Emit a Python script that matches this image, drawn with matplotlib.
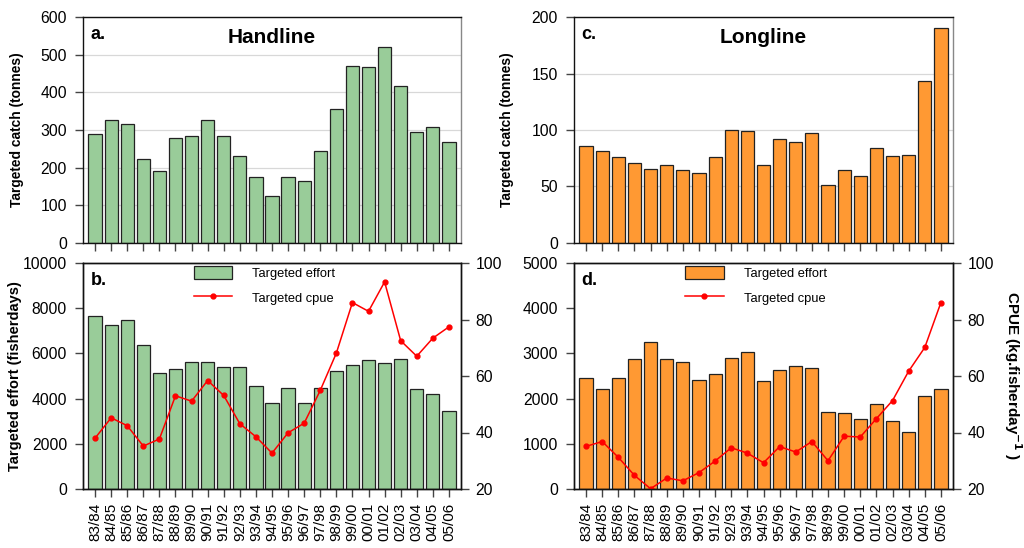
import matplotlib
matplotlib.use("Agg")
import matplotlib.pyplot as plt
import numpy as np

plt.rcParams['font.family'] = ['Liberation Sans', 'DejaVu Sans']

seasons = ["83/84", "84/85", "85/86", "86/87", "87/88", "88/89", "89/90", "90/91",
           "91/92", "92/93", "93/94", "94/95", "95/96", "96/97", "97/98", "98/99",
           "99/00", "00/01", "01/02", "02/03", "03/04", "04/05", "05/06"]

handline_catch = [290, 326, 315, 224, 192, 278, 285, 327, 284, 231, 174, 124,
                  176, 164, 244, 355, 469, 468, 520, 416, 295, 307, 267]
handline_effort = [7670, 7260, 7480, 6380, 5130, 5290, 5600, 5600, 5380, 5390, 4540, 3810,
                   4450, 3810, 4480, 5230, 5490, 5690, 5580, 5770, 4420, 4210, 3450]
handline_cpue = [38.0, 45.2, 42.4, 35.2, 37.7, 53.0, 51.1, 58.4, 53.1, 43.1, 38.5, 32.7,
                 39.9, 43.3, 54.9, 68.1, 86.0, 82.9, 93.3, 72.5, 67.0, 73.4, 77.4]

longline_catch = [85.7, 81.6, 76.3, 71.0, 65.7, 68.6, 64.2, 62.2, 76.3, 100.1, 99.0, 69.2,
                  91.9, 89.8, 97.5, 51.5, 64.8, 59.5, 83.9, 76.9, 77.8, 143.4, 190.6]
longline_effort = [2445, 2217, 2445, 2887, 3247, 2879, 2820, 2415, 2548, 2909, 3041, 2393,
                   2636, 2732, 2666, 1708, 1679, 1554, 1878, 1495, 1267, 2047, 2217]
longline_cpue = [35.1, 36.8, 31.2, 24.8, 20.1, 23.9, 22.9, 25.8, 29.9, 34.6, 32.7, 29.3,
                 35.0, 33.1, 36.8, 30.0, 38.7, 38.4, 44.9, 51.3, 61.7, 70.1, 86.0]

GREEN = '#99cc99'
ORANGE = '#ff9933'
EDGE = '#222222'
RED = '#ff0000'
TICK_FS = 11.3

fig = plt.figure(figsize=(10.24, 5.48), dpi=100)
W, H = 1024, 548

def ax_at(l, r, t, b):
    return fig.add_axes([l / W, 1 - b / H, (r - l) / W, (b - t) / H])

ax_a = ax_at(83, 461, 17, 243)
ax_b = ax_at(83, 461, 263, 489)
ax_c = ax_at(574, 953, 17, 243)
ax_d = ax_at(574, 953, 263, 489)

x = np.arange(len(seasons))

def style_common(ax):
    ax.set_xlim(-0.75, len(seasons) - 0.25)
    ax.tick_params(axis='both', direction='out', length=5.5, width=1, color='#444444',
                   labelsize=TICK_FS, pad=4.5)
    ax.tick_params(axis='y', pad=6)
    for s in ax.spines.values():
        s.set_linewidth(1.0)
        s.set_color('#111111')

def top_panel(ax, vals, color, ymax, ystep, letter, title):
    ax.set_axisbelow(True)
    ax.yaxis.grid(True, color='#d8d8d8', linewidth=0.9)
    ax.bar(x, vals, width=0.82, color=color, edgecolor=EDGE, linewidth=0.9)
    style_common(ax)
    ax.set_ylim(0, ymax)
    ax.set_yticks(np.arange(0, ymax + 1, ystep))
    ax.set_xticks(x)
    ax.set_xticklabels([])
    ax.spines['right'].set_color('#888888')
    ax.set_ylabel('Targeted catch (tonnes)', fontsize=9.9, fontweight='bold')
    ax.text(0.02, 0.96, letter, transform=ax.transAxes, fontsize=13, fontweight='bold',
            va='top', ha='left')
    ax.text(0.5, 0.95, title, transform=ax.transAxes, fontsize=15, fontweight='bold',
            va='top', ha='center')

def bottom_panel(ax, effort, cpue, color, ymax, ystep, letter, ylabel, rlabel):
    b = ax.bar(x, effort, width=0.82, color=color, edgecolor=EDGE, linewidth=0.9)
    style_common(ax)
    ax.set_ylim(0, ymax)
    ax.set_yticks(np.arange(0, ymax + 1, ystep))
    ax.set_xticks(x)
    ax.set_xticklabels(seasons, rotation=90, fontsize=11)
    if ylabel:
        ax.set_ylabel(ylabel, fontsize=10.5, fontweight='bold')
    ax.text(0.02, 0.96, letter, transform=ax.transAxes, fontsize=13, fontweight='bold',
            va='top', ha='left')
    ax2 = ax.twinx()
    ln, = ax2.plot(x, cpue, color=RED, linewidth=1.1, marker='o', markersize=3.5)
    ax2.set_ylim(20, 100)
    ax2.set_yticks([20, 40, 60, 80, 100])
    ax2.tick_params(axis='y', direction='out', length=5.5, width=1, color='#444444',
                    labelsize=TICK_FS, pad=5)
    for s in ax2.spines.values():
        s.set_linewidth(1.0)
        s.set_color('#111111')
    if rlabel:
        ax2.set_ylabel(rlabel, fontsize=11, fontweight='bold', rotation=270,
                       labelpad=21)
    ax.legend([b, ln], ['Targeted effort', 'Targeted cpue'], loc='upper left',
              bbox_to_anchor=(0.262, 1.036), frameon=False, fontsize=9.3,
              handlelength=3.0, handleheight=1.15, handletextpad=1.55, labelspacing=0.82,
              numpoints=1)
    return ax2

top_panel(ax_a, handline_catch, GREEN, 600, 100, 'a.', 'Handline')
top_panel(ax_c, longline_catch, ORANGE, 200, 50, 'c.', 'Longline')
bottom_panel(ax_b, handline_effort, handline_cpue, GREEN, 10000, 2000, 'b.',
             'Targeted effort (fisherdays)', None)
bottom_panel(ax_d, longline_effort, longline_cpue, ORANGE, 5000, 1000, 'd.',
             None, 'CPUE (kg.fisherday$^{\\mathbf{-1}}$ )')

ax_a.yaxis.set_label_coords(-0.156, 0.5)
ax_b.yaxis.set_label_coords(-0.161, 0.5)
ax_c.yaxis.set_label_coords(-0.158, 0.5)

fig.savefig('out.png', dpi=100)
